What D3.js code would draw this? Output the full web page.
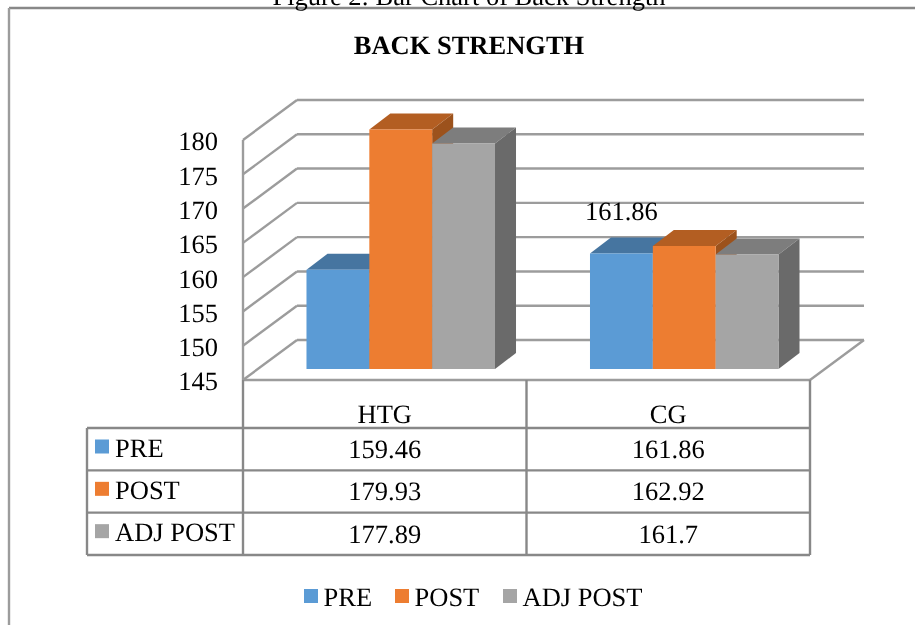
<!DOCTYPE html>
<html lang="en">
<head>
    <meta charset="UTF-8">
    <title>Back Strength</title>
    <script src="https://d3js.org/d3.v7.min.js"></script>
    <style>
        html, body { margin: 0; padding: 0; background: #fff; overflow: hidden; }
        svg { filter: blur(0.35px); }
        text { font-family: "Liberation Serif", serif; fill: #000; text-rendering: geometricPrecision; }
    </style>
</head>
<body>
    <script>
        // Chart data
        const groups = ['HTG', 'CG'];
        const seriesNames = ['PRE', 'POST', 'ADJ POST'];
        const pre = [159.46, 161.86];
        const post = [179.93, 162.92];
        const adjPost = [177.89, 161.7];
        const yTicks = [145, 150, 155, 160, 165, 170, 175, 180];
        const seriesValues = [pre, post, adjPost];

        const faceColors = ['#5b9bd5', '#ed7d31', '#a5a5a5'];
        const topColors = ['#4675a0', '#b35e22', '#7d7d7d'];
        const sideColors = ['#3f6a92', '#9c521c', '#6a6a6a'];
        const wallColor = '#9c9c9c';
        const tableColor = '#888888';

        const fontSize = 26.5;

        const svg = d3.select('body').append('svg')
            .attr('width', 915)
            .attr('height', 625);

        // Scales for the front edge of the 3D box
        const x = d3.scaleBand().domain(groups).range([243, 810]).paddingInner(0.335).paddingOuter(0.1675);
        const xSeries = d3.scaleBand().domain(seriesNames).range([0, x.bandwidth()]);
        const y = d3.scaleLinear().domain([145, 180]).range([380, 140]);

        // Offsets for the 3D look
        const back = {x: 54, y: -40};       // back wall
        const plane = {x: 16, y: -11};      // front plane of the bars
        const depth = {x: 21, y: -16};      // bar depth

        const line = (x1, y1, x2, y2, color) => svg.append('line')
            .attr('x1', x1).attr('y1', y1).attr('x2', x2).attr('y2', y2)
            .attr('stroke', color).attr('stroke-width', 2.4);

        // Outer frame and caption
        line(9, 8, 915, 8, tableColor);
        line(9, 8, 9, 625, wallColor);
        svg.append('text').attr('x', 469).attr('y', 5).attr('text-anchor', 'middle')
            .attr('font-size', fontSize).text('Figure 2: Bar Chart of Back Strength');

        svg.append('text').attr('x', 469).attr('y', 54).attr('text-anchor', 'middle')
            .attr('font-size', fontSize).attr('font-weight', 'bold').text('BACK STRENGTH');

        // Back wall, side wall, floor
        const wallRight = x.range()[1] + back.x;
        yTicks.forEach(t => {
            line(x.range()[0], y(t), x.range()[0] + back.x, y(t) + back.y, wallColor);
            line(x.range()[0] + back.x, y(t) + back.y, wallRight, y(t) + back.y, wallColor);
        });
        line(x.range()[0], y(180), x.range()[0], y(145), wallColor);
        line(x.range()[0], y(145), x.range()[1], y(145), wallColor);
        line(x.range()[1], y(145), wallRight, y(145) + back.y, wallColor);

        // Y axis labels
        const yAxis = d3.axisLeft(y).tickValues(yTicks).tickSize(0).tickPadding(25);
        const yAxisG = svg.append('g')
            .attr('transform', `translate(${x.range()[0]},1.5)`)
            .call(yAxis);
        yAxisG.select('.domain').remove();
        yAxisG.selectAll('text').attr('font-size', fontSize).attr('font-family', '"Liberation Serif", serif');

        // Bars, one group at a time, each bar with top, side and front faces
        groups.forEach((g, gi) => {
            seriesNames.forEach((s, si) => {
                const v = seriesValues[si][gi];
                const x0 = x(g) + xSeries(s) + plane.x;
                const x1 = x0 + xSeries.bandwidth();
                const yTop = y(v) + plane.y;
                const yBase = y(145) + plane.y;
                const poly = (pts, color) => svg.append('polygon')
                    .attr('points', pts.map(p => p.join(',')).join(' '))
                    .attr('fill', color);
                poly([[x0, yTop], [x0 + depth.x, yTop + depth.y], [x1 + depth.x, yTop + depth.y], [x1, yTop]], topColors[si]);
                poly([[x1, yTop], [x1 + depth.x, yTop + depth.y], [x1 + depth.x, yBase + depth.y], [x1, yBase]], sideColors[si]);
                poly([[x0, yTop], [x1, yTop], [x1, yBase], [x0, yBase]], faceColors[si]);
            });
        });

        // Single data label
        svg.append('text')
            .attr('x', x('CG') + xSeries('PRE') + plane.x + xSeries.bandwidth() / 2)
            .attr('y', y(pre[1]) + plane.y - 33)
            .attr('text-anchor', 'middle')
            .attr('font-size', fontSize)
            .text(pre[1]);

        // Data table under the chart
        const tableLeft = 87;
        const rowY = d3.scalePoint().domain([0, 1, 2, 3]).range([428, 555]);
        const colEdges = [x.range()[0], x.range()[0] + x.step(), x.range()[1]];

        colEdges.forEach(cx => line(cx, y(145), cx, rowY(3), tableColor));
        line(tableLeft, rowY(0), tableLeft, rowY(3), tableColor);
        [0, 1, 2, 3].forEach(i => line(tableLeft, rowY(i), x.range()[1], rowY(i), tableColor));

        groups.forEach((g, gi) => {
            svg.append('text')
                .attr('x', colEdges[gi] + x.step() / 2)
                .attr('y', 423)
                .attr('text-anchor', 'middle')
                .attr('font-size', fontSize)
                .text(g);
            seriesNames.forEach((s, si) => {
                svg.append('text')
                    .attr('x', colEdges[gi] + x.step() / 2)
                    .attr('y', rowY(si) + 30)
                    .attr('text-anchor', 'middle')
                    .attr('font-size', fontSize)
                    .text(seriesValues[si][gi]);
            });
        });

        seriesNames.forEach((s, si) => {
            svg.append('rect')
                .attr('x', 95).attr('y', rowY(si) + 11.5)
                .attr('width', 14).attr('height', 14)
                .attr('fill', faceColors[si]);
            svg.append('text')
                .attr('x', 115).attr('y', rowY(si) + 28.5)
                .attr('font-size', fontSize)
                .text(s);
        });

        // Legend at the bottom
        const legendX = [304, 395, 503];
        seriesNames.forEach((s, si) => {
            svg.append('rect')
                .attr('x', legendX[si]).attr('y', 589)
                .attr('width', 14).attr('height', 14)
                .attr('fill', faceColors[si]);
            svg.append('text')
                .attr('x', legendX[si] + 19.5).attr('y', 606)
                .attr('font-size', fontSize)
                .text(s);
        });
    </script>
</body>
</html>
